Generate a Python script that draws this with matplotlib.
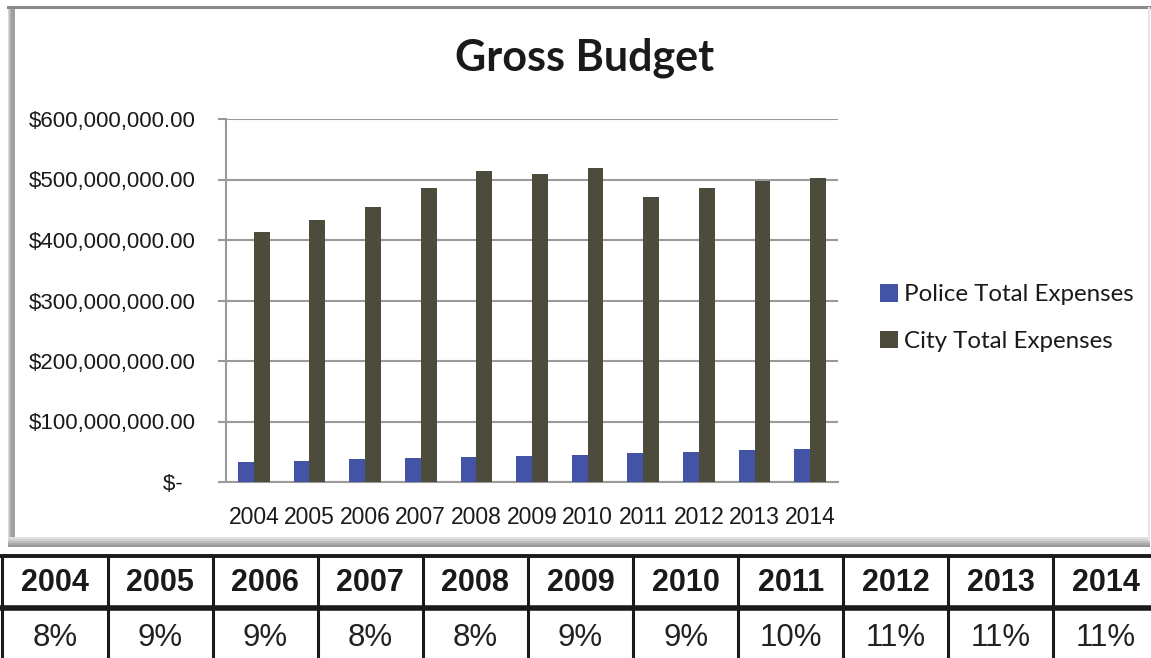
import matplotlib.pyplot as plt
import numpy as np
from matplotlib.patches import Rectangle
from matplotlib.ticker import FuncFormatter

### Data
years = ['2004', '2005', '2006', '2007', '2008', '2009', '2010', '2011', '2012', '2013', '2014']
police = [33e6, 35e6, 38e6, 39e6, 41e6, 43e6, 45e6, 48e6, 50e6, 53e6, 55e6]
city = [413e6, 433e6, 455e6, 486e6, 514e6, 509e6, 519e6, 471e6, 486e6, 497e6, 502e6]
share = ['8%', '9%', '9%', '8%', '8%', '9%', '9%', '10%', '11%', '11%', '11%']

narrow = ['Liberation Sans Narrow', 'Liberation Sans', 'DejaVu Sans']
blue = '#4354a6'
olive = '#4d4b3c'
grid_c = '#9a9a9a'

W, H = 1151, 658
fig = plt.figure(figsize=(W/100, H/100), dpi=100)

### background: chart frame + table, drawn in pixel coords
bg = fig.add_axes([0, 0, 1, 1])
bg.set_xlim(0, W); bg.set_ylim(H, 0); bg.axis('off')
# shadow on left and bottom of the frame
for i, c in enumerate(['#d8d8d8', '#c4c4c4', '#b0b0b0', '#a0a0a0']):
    bg.add_patch(Rectangle((8+i, 6), 7-i, 541, color=c, lw=0))
for i, c in enumerate(['#e0e0e0', '#cfcfcf', '#bdbdbd', '#aaaaaa', '#999999']):
    bg.add_patch(Rectangle((8, 537+i*2), 1142, 2, color=c, lw=0))
bg.plot([8, 1150], [7, 7], color='#8a8a8a', lw=2.2)
bg.plot([1149, 1149], [8, 540], color='#e6e6e6', lw=1.5)

# table
ncol = len(years)
x0, cw = 2.5, 105.1
edges = [x0 + cw*i for i in range(ncol+1)]
bg.plot([0, W], [556, 556], color='#1a1a1a', lw=2.8)
bg.plot([0, W], [608, 608], color='#1a1a1a', lw=4)
for e in edges:
    bg.plot([e, e], [556, H], color='#1a1a1a', lw=2.2)
for i, (yr, s) in enumerate(zip(years, share)):
    cx = x0 + cw*(i+0.5)
    bg.text(cx, 583, yr, ha='center', va='center', fontsize=22, fontweight='bold',
            family=narrow, color='#1a1a1a')
    bg.text(cx, 638, s, ha='center', va='center', fontsize=22.5, family=narrow, color='#222222')

### bar chart
ax = fig.add_axes([226/W, 1-482/H, (838-226)/W, (482-119)/H])
ax.patch.set_alpha(0)
x = np.arange(ncol)
bw = 0.285
ax.bar(x - bw/2, police, bw, color=blue, label='Police Total Expenses', zorder=3)
ax.bar(x + bw/2, city, bw, color=olive, label='City Total Expenses', zorder=3)
ax.set_xlim(-0.5, ncol-0.5)
ax.set_ylim(0, 600e6)
ax.set_yticks(np.arange(0, 600e6+1, 100e6))
ax.yaxis.set_major_formatter(FuncFormatter(lambda v, p: '$-  ' if v == 0 else f'${v:,.2f}'))
ax.set_xticks(x)
ax.set_xticklabels(years)
ax.grid(axis='y', color=grid_c, lw=1.5, zorder=0)
for s in ['top', 'right']:
    ax.spines[s].set_visible(False)
ax.spines['left'].set_color(grid_c); ax.spines['left'].set_linewidth(1.5)
ax.spines['bottom'].set_color(grid_c); ax.spines['bottom'].set_linewidth(1.5)
ax.tick_params(axis='y', length=6, width=1.5, color=grid_c, pad=16, labelsize=16, labelcolor='#1a1a1a')
ax.tick_params(axis='x', length=0, pad=17, labelsize=16.5, labelcolor='#1a1a1a')
for lab in ax.get_yticklabels() + ax.get_xticklabels():
    lab.set_family(narrow)

fig.text(585/W, 1-58/H, 'Gross Budget', ha='center', va='center', fontsize=31,
         fontweight='bold', family=['Lato', 'DejaVu Sans'], color='#1a1a1a')

leg = fig.legend(loc='center left', bbox_to_anchor=(858/W, 1-318/H), frameon=False,
                 prop={'family': ['Lato', 'DejaVu Sans'], 'size': 17.4},
                 handlelength=0.75, handleheight=0.75, handletextpad=0.25, labelspacing=1.05)
for t in leg.get_texts():
    t.set_color('#1a1a1a')

fig.savefig('out.png', dpi=100)
